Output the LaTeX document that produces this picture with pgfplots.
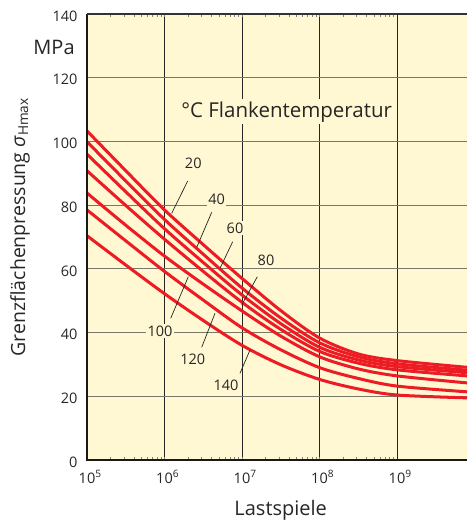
\documentclass[border=0pt]{standalone}
\usepackage{pgfplots}
\pgfplotsset{compat=1.18}
\usepackage{fontspec}
\setmainfont{Open Sans}
\definecolor{bg}{HTML}{FFF8D3}
\definecolor{cred}{HTML}{ED1C24}
\definecolor{hgrid}{HTML}{77776A}
\pgfplotsset{crv/.style={cred, line width=3pt, smooth, no markers}}
\begin{document}
\begin{tikzpicture}[x=1pt,y=1pt,
  lbl/.style={fill=bg, inner sep=1.5pt, font=\fontsize{14.5}{16}\selectfont, text=black!85},
  ptr/.style={black!85, line width=0.7pt}]
\path[use as bounding box] (0,0) rectangle (467,522);
\begin{axis}[
  name=ax, at={(87pt,62pt)}, anchor=south west,
  scale only axis, width=380pt, height=446pt,
  xmode=log, xmin=1e5, xmax=8e9, ymin=0, ymax=140,
  axis line style={draw=none},
  axis background/.style={fill=bg},
  xtick={1e5,1e6,1e7,1e8,1e9},
  xticklabels={10\rlap{\textsuperscript{5}},10\rlap{\textsuperscript{6}},10\rlap{\textsuperscript{7}},10\rlap{\textsuperscript{8}},10\rlap{\textsuperscript{9}}},
  minor xtick={},
  ytick={0,20,...,140},
  major tick length=0pt,
  xmajorgrids, ymajorgrids,
  major x grid style={black!85, line width=0.8pt},
  major y grid style={hgrid, line width=1.2pt},
  tick label style={font=\fontsize{14.5}{16}\selectfont, text=black!85},
  /pgf/number format/assume math mode=true,
  yticklabel style={xshift=-6pt, yshift=-2pt},
  xticklabel style={yshift=-7pt},
  clip mode=individual,
]
% N: 10^5, 10^5.5, 10^6, 10^6.5, 10^7, 10^7.5, 10^8, 10^8.5, 10^9, 8e9
\addplot[crv] coordinates {(1e5,103.3) (3.162e5,90.8) (1e6,78.5) (3.162e6,67.6) (1e7,57.0) (3.162e7,46.9) (1e8,38.3) (3.162e8,33.3) (1e9,31.2) (8e9,29.1)};
\addplot[crv] coordinates {(1e5,99.9) (3.162e5,87.6) (1e6,75.5) (3.162e6,64.6) (1e7,54.0) (3.162e7,44.6) (1e8,36.8) (3.162e8,32.4) (1e9,30.2) (8e9,28.2)};
\addplot[crv] coordinates {(1e5,96.0) (3.162e5,84.2) (1e6,72.6) (3.162e6,62.0) (1e7,51.8) (3.162e7,42.8) (1e8,35.4) (3.162e8,31.4) (1e9,29.3) (8e9,27.4)};
\addplot[crv] coordinates {(1e5,90.8) (3.162e5,79.9) (1e6,69.3) (3.162e6,59.2) (1e7,49.5) (3.162e7,41.0) (1e8,34.1) (3.162e8,30.4) (1e9,28.3) (8e9,26.4)};
\addplot[crv] coordinates {(1e5,83.8) (3.162e5,73.7) (1e6,64.0) (3.162e6,55.2) (1e7,46.8) (3.162e7,38.9) (1e8,32.4) (3.162e8,28.6) (1e9,26.4) (8e9,24.2)};
\addplot[crv] coordinates {(1e5,78.5) (3.162e5,68.8) (1e6,59.2) (3.162e6,50.2) (1e7,41.5) (3.162e7,34.6) (1e8,29.0) (3.162e8,25.6) (1e9,23.2) (8e9,21.4)};
\addplot[crv] coordinates {(1e5,70.4) (3.162e5,61.2) (1e6,52.2) (3.162e6,43.8) (1e7,36.0) (3.162e7,29.9) (1e8,25.3) (3.162e8,22.3) (1e9,20.4) (8e9,19.5)};
% frame
\draw[black!90, line width=2pt] (rel axis cs:0,1) -- (rel axis cs:0,0) -- (rel axis cs:1,0);
\draw[black!80, line width=1.5pt] (rel axis cs:0,1) -- (rel axis cs:1,1);
% pointers
\draw[ptr] (rel axis cs:0.265,0.6256) -- (rel axis cs:0.2229,0.5531);
\draw[ptr] (rel axis cs:0.3282,0.5554) -- (rel axis cs:0.2887,0.4769);
\draw[ptr] (rel axis cs:0.3834,0.4895) -- (rel axis cs:0.35,0.4298);
\draw[ptr] (rel axis cs:0.4482,0.411) -- (rel axis cs:0.4071,0.3475);
\draw[ptr] (rel axis cs:0.2203,0.3177) -- (rel axis cs:0.2666,0.411);
\draw[ptr] (rel axis cs:0.3018,0.2527) -- (rel axis cs:0.3368,0.3289);
\draw[ptr] (rel axis cs:0.4026,0.1944) -- (rel axis cs:0.4289,0.2466);
% labels
\node[lbl] at (rel axis cs:0.2797,0.6652) {20};
\node[lbl] at (rel axis cs:0.3413,0.5852) {40};
\node[lbl] at (rel axis cs:0.3895,0.5195) {60};
\node[lbl] at (rel axis cs:0.4711,0.4469) {80};
\node[lbl] at (rel axis cs:0.1921,0.2892) {100};
\node[lbl] at (rel axis cs:0.2782,0.2258) {120};
\node[lbl] at (rel axis cs:0.3658,0.1682) {140};
\node[fill=bg, inner sep=2pt, font=\fontsize{20.5}{24}\selectfont, text=black!85] at (rel axis cs:0.5255,0.7809) {°C Flankentemperatur};
\node[font=\fontsize{20}{24}\selectfont, text=black!85] at (rel axis cs:-0.0868,0.926) {MPa};
\node[rotate=90, font=\fontsize{19.5}{24}\selectfont, text=black!85] at (rel axis cs:-0.1763,0.522) {Grenzflächenpressung {\itshape σ}\textsubscript{Hmax}};
\node[font=\fontsize{20}{24}\selectfont, text=black!85] at (rel axis cs:0.5097,-0.112) {Lastspiele};
\end{axis}
\end{tikzpicture}
\end{document}
